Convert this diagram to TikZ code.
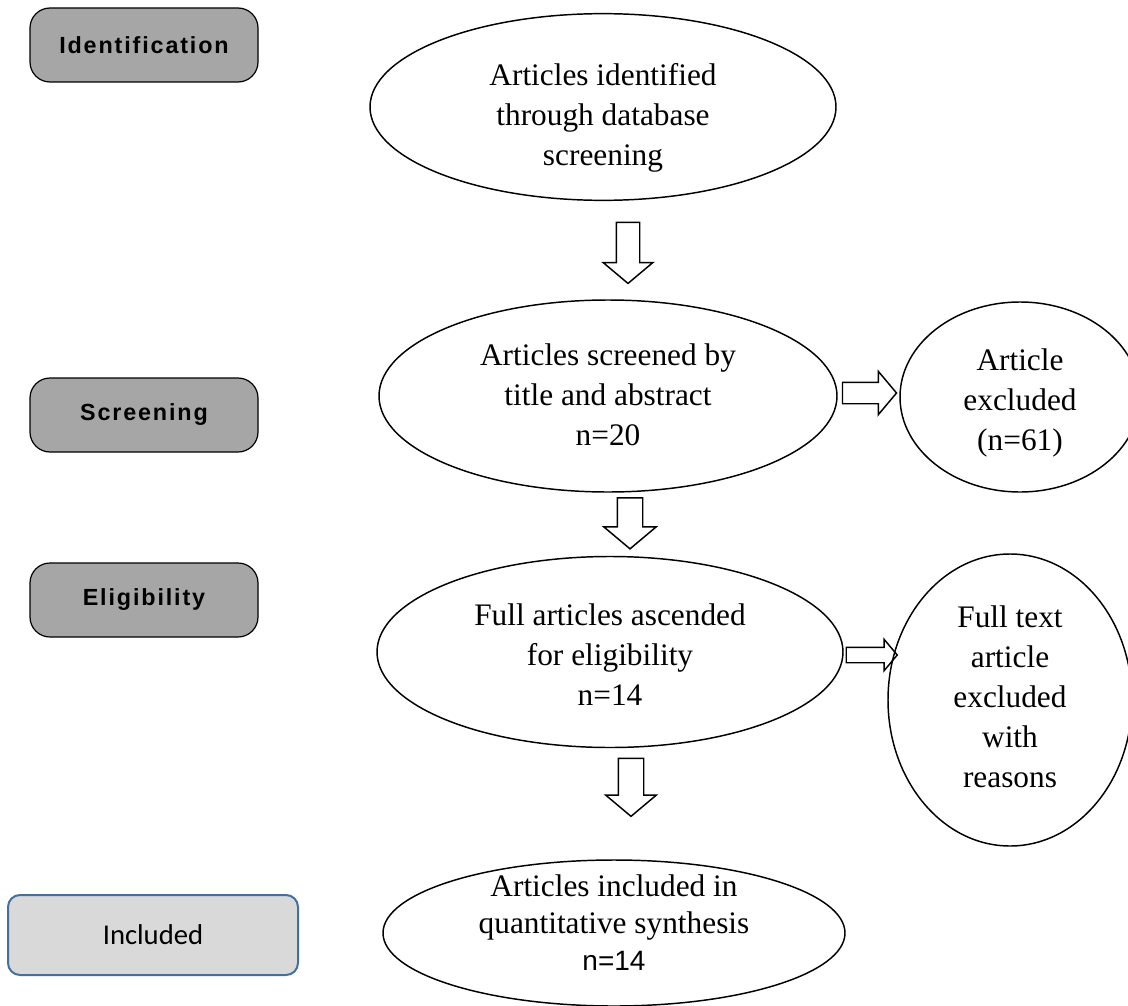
\documentclass[tikz,border=0pt]{standalone}
\usepackage{fontspec}
\setmainfont{Liberation Serif}
\newfontfamily\sidefont[LetterSpace=8]{Liberation Sans}
\newfontfamily\calibrifont{Carlito}
\newfontfamily\arialfont{Liberation Sans}
\usepackage{tikz}
\usetikzlibrary{shapes.geometric,shapes.arrows}

\definecolor{stagegray}{HTML}{A6A6A6}
\definecolor{inclgray}{HTML}{D9D9D9}
\definecolor{inclblue}{HTML}{41719C}

\begin{document}
\begin{tikzpicture}[
  x=0.75pt, y=-0.75pt,
  stage/.style={rectangle, draw, rounded corners=15pt, fill=stagegray, line width=0.9pt,
    minimum width=171pt, minimum height=55.5pt, font=\sidefont\bfseries\fontsize{17.5}{19}\selectfont},
  bubble/.style={ellipse, draw, line width=1.1pt, inner sep=0pt, align=center,
    font=\fontsize{23.5}{30}\selectfont},
  drop/.style={text depth=6pt, text height=#1},
  blockarrow/.style={single arrow, draw, line width=1.1pt, inner xsep=0pt,
    single arrow tip angle=100}
]

\useasboundingbox (0,0) rectangle (1128,1006);

% stages
\node[stage] (ident) at (144,45) {Identification};
\node[stage] (screen) at (144,415) {Screening};
\node[stage] (elig) at (144,600) {Eligibility};
\node[rectangle, draw=inclblue, fill=inclgray, rounded corners=9pt, line width=1.5pt,
  minimum width=217.5pt, minimum height=60pt, font=\calibrifont\fontsize{21.5}{24}\selectfont]
  (incl) at (153,935) {Included};

% flow
\node[bubble, drop=93pt, minimum width=349.5pt, minimum height=138pt] (found) at (603,107)
  {Articles identified\\through database\\screening};
\node[bubble, drop=79.5pt, minimum width=343.5pt, minimum height=144pt] (screened) at (608,396)
  {Articles screened by\\title and abstract\\n=20};
\node[bubble, drop=85.5pt, minimum width=180pt, minimum height=142.5pt] (excl) at (1020,397)
  {Article\\excluded\\(n=61)};
\node[bubble, drop=85.5pt, minimum width=349.5pt, minimum height=143.25pt] (full) at (610,652)
  {Full articles ascended\\for eligibility\\n=14};
\node[bubble, drop=136.5pt, minimum width=183pt, minimum height=219pt] (fullexcl) at (1010,700)
  {Full text\\article\\excluded\\with\\reasons};
\node[bubble, drop=61.5pt, minimum width=346.5pt, minimum height=109.5pt, font=\fontsize{23.5}{27.5}\selectfont]
  (synth) at (614,933)
  {Articles included in\\quantitative synthesis\\{\arialfont\fontsize{21}{27.5}\selectfont n=14}};

% block arrows
\node[blockarrow, rotate=-90, minimum height=45.75pt, inner ysep=8.25pt,
  single arrow head extend=9.75pt] (a1) at (628,248) {};
\node[blockarrow, rotate=-90, minimum height=38.25pt, inner ysep=9pt,
  single arrow head extend=10pt] (a2) at (630,518) {};
\node[blockarrow, rotate=-90, minimum height=43.5pt, inner ysep=9pt,
  single arrow head extend=9.4pt] (a3) at (631,782) {};
\node[blockarrow, minimum height=40.5pt, inner ysep=7.5pt,
  single arrow head extend=8.25pt] (a4) at (865,393) {};
\node[blockarrow, minimum height=38.25pt, inner ysep=5.25pt,
  single arrow head extend=6pt] (a5) at (868.5,655) {};

\end{tikzpicture}
\end{document}
